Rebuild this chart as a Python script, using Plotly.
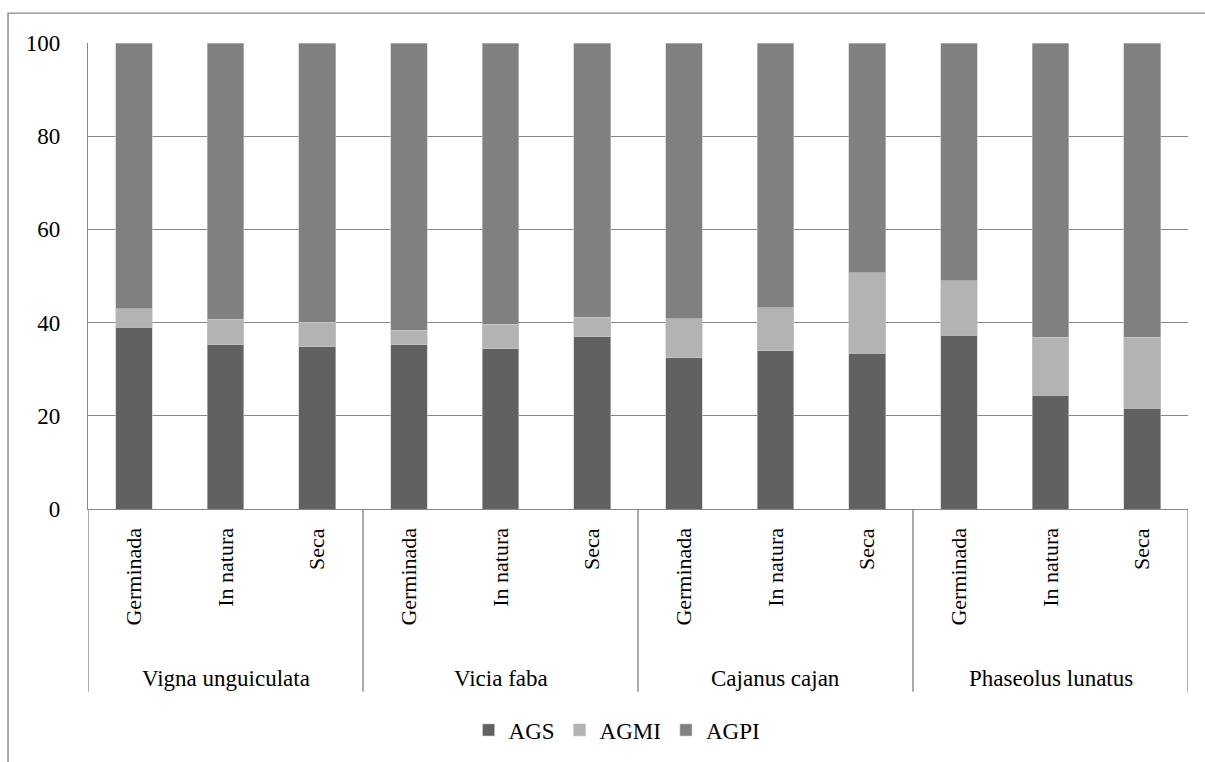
import plotly.graph_objects as go

# Fatty-acid class composition (% of total) per legume and processing state
species = ["Vigna unguiculata", "Vicia faba", "Cajanus cajan", "Phaseolus lunatus"]
treatments = ["Germinada", "In natura", "Seca"]

ags = [39.0, 35.2, 34.8, 35.2, 34.4, 37.0, 32.5, 34.0, 33.4, 37.3, 24.4, 21.6]
agmi = [4.0, 5.5, 5.3, 3.2, 5.3, 4.2, 8.3, 9.2, 17.3, 11.7, 12.5, 15.3]
agpi = [57.0, 59.3, 59.9, 61.6, 60.3, 58.8, 59.2, 56.8, 49.3, 51.0, 63.1, 63.1]

y_ticks = [0, 20, 40, 60, 80, 100]

FONT = "Liberation Serif"
GRID = "#878787"
EDGE = "#c8c8c8"

n_bars = len(species) * len(treatments)
positions = list(range(n_bars))

fig = go.Figure()
for name, values, color in [
    ("AGS", ags, "#616161"),
    ("AGMI", agmi, "#b3b3b3"),
    ("AGPI", agpi, "#808080"),
]:
    fig.add_trace(go.Bar(
        x=positions, y=values, name=name, width=0.4,
        marker=dict(color=color, line=dict(color=EDGE, width=0.6)),
    ))

# Level-1 labels (processing state), rotated
annotations = []
for i in positions:
    annotations.append(dict(
        x=i, y=-0.036, xref="x", yref="paper",
        text=treatments[i % len(treatments)], textangle=-90,
        showarrow=False, xanchor="center", yanchor="top",
        font=dict(family=FONT, size=22, color="black"),
    ))

# Level-2 labels (species)
for g, sp in enumerate(species):
    annotations.append(dict(
        x=g * len(treatments) + (len(treatments) - 1) / 2, y=-0.364,
        xref="x", yref="paper", text=sp, showarrow=False,
        xanchor="center", yanchor="middle",
        font=dict(family=FONT, size=23, color="black"),
    ))

shapes = []
# Group dividers under the category axis
for g in range(len(species) + 1):
    xb = g * len(treatments) - 0.5
    shapes.append(dict(
        type="line", xref="x", yref="paper", x0=xb, x1=xb, y0=0, y1=-0.392,
        line=dict(color=GRID, width=1.4),
    ))
# Chart-area frame
shapes.append(dict(
    type="rect", xref="paper", yref="paper",
    x0=-0.0727, x1=1.3, y0=-1.0, y1=1.0642,
    line=dict(color=GRID, width=1.4), fillcolor="rgba(0,0,0,0)", layer="below",
))

fig.update_layout(
    width=1205, height=762,
    margin=dict(l=88, r=17, t=43, b=252),
    paper_bgcolor="white", plot_bgcolor="white",
    barmode="stack", bargap=0.6,
    font=dict(family=FONT, size=23, color="black"),
    showlegend=True,
    legend=dict(
        orientation="h", x=0.481, xanchor="center", y=-0.471, yanchor="middle",
        font=dict(family=FONT, size=23, color="black"),
        itemwidth=30, tracegroupgap=0, traceorder="normal",
        bgcolor="rgba(0,0,0,0)",
    ),
    annotations=annotations,
    shapes=shapes,
)
fig.update_xaxes(
    range=[-0.5, n_bars - 0.5], showticklabels=False, showgrid=False,
    zeroline=False, showline=True, linecolor=GRID, linewidth=1.4,
    ticks="",
)
fig.update_yaxes(
    range=[0, 100], tickvals=y_ticks, ticktext=[str(v) for v in y_ticks],
    showgrid=True, gridcolor=GRID, gridwidth=1.4,
    zeroline=False, showline=True, linecolor=GRID, linewidth=1.4,
    ticks="", ticklabelstandoff=22,
    tickfont=dict(family=FONT, size=23, color="black"),
)

fig.write_html("out.html")
